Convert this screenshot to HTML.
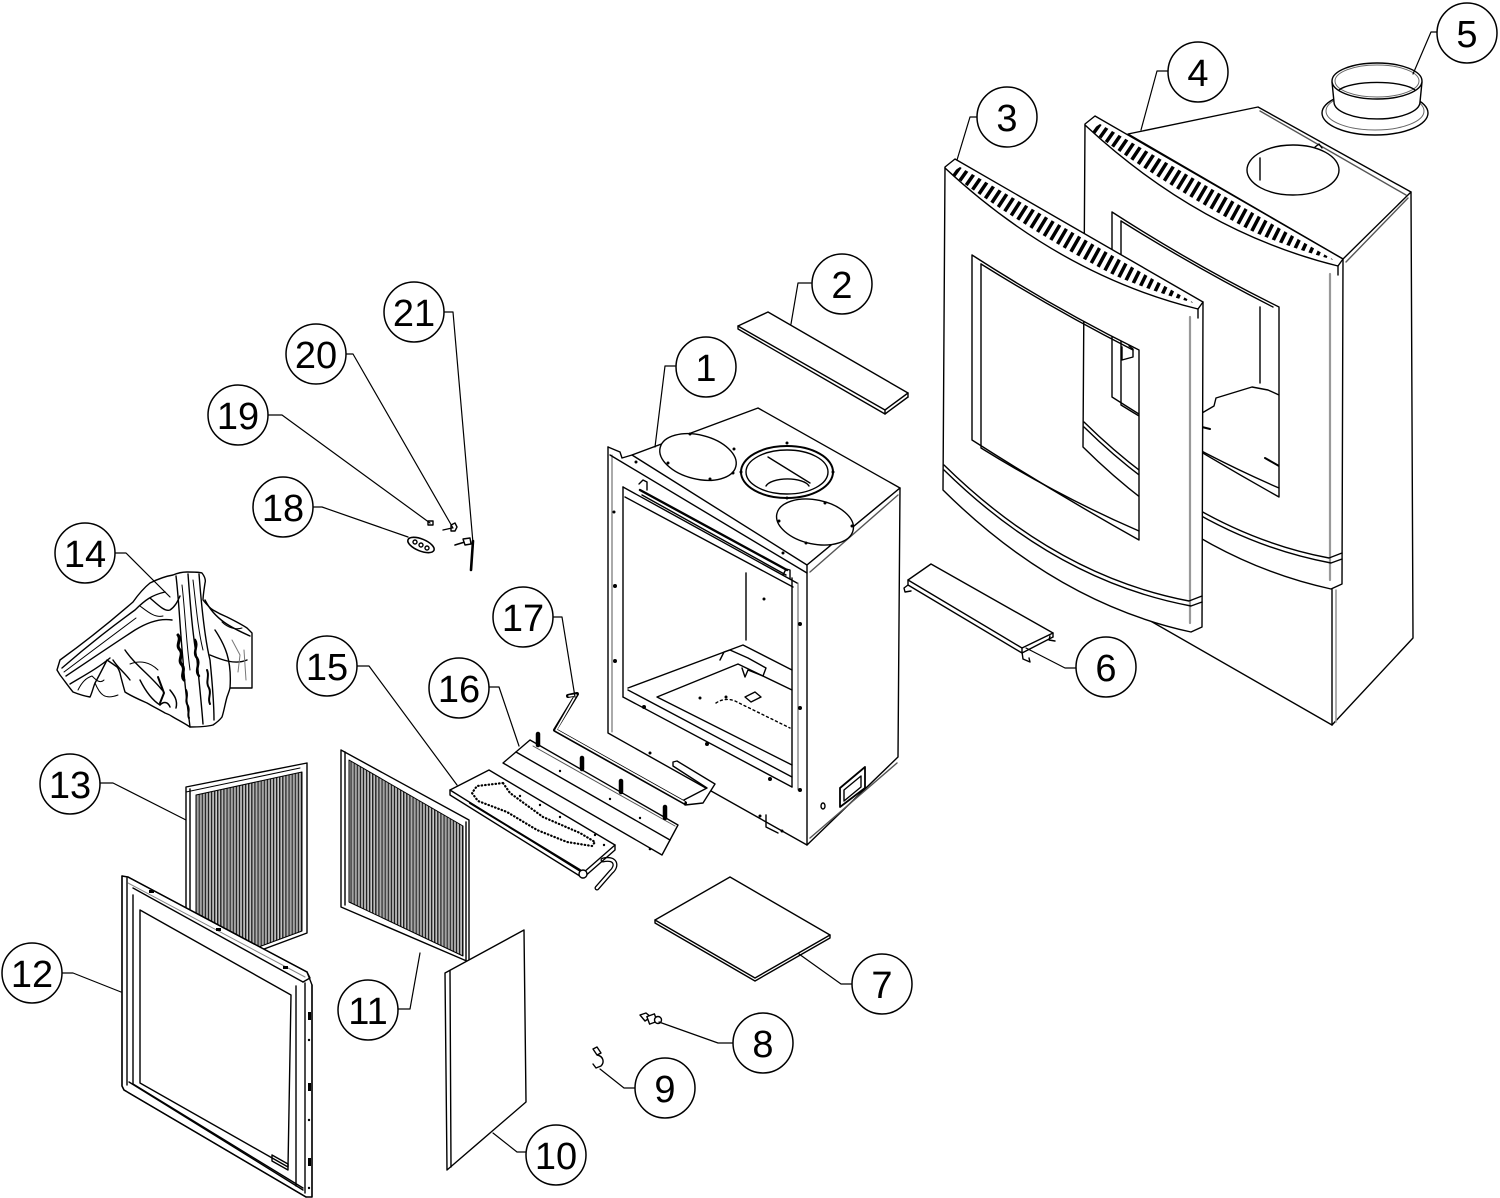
<!DOCTYPE html>
<html><head><meta charset="utf-8">
<style>
html,body{margin:0;padding:0;background:#fff;}
svg{display:block;}
.lbl{font-family:"Liberation Sans",Arial,sans-serif;font-size:38px;fill:#000;stroke:none;text-anchor:middle;}
</style></head><body>
<svg width="1500" height="1198" viewBox="0 0 1500 1198" xmlns="http://www.w3.org/2000/svg">
<defs>
<pattern id="rid" width="3.1" height="20" patternUnits="userSpaceOnUse">
<rect x="0" y="0" width="3.1" height="20" fill="#fff"/>
<rect x="0" y="0" width="1.5" height="20" fill="#222"/>
<rect x="1.9" y="0" width="0.7" height="20" fill="#888"/>
</pattern>
<clipPath id="slotclip"><path d="M960 167 L1194 303 Q1061 267 951 173 Z"/></clipPath>
<g id="front">
<path d="M945 167 L955 159 L1203 302 L1202 627 L1191 632 Q1057 603 943 490 Z M972 255 Q1054 308 1139 350 L1139 540 Q1055 493 972 440 Z" fill="#fff" fill-rule="evenodd"/>
<path d="M945 168 Q1060 275 1198 309 L1203 302"/>
<path d="M958 167 Q1070 248 1193 302" stroke="#000" stroke-width="20" stroke-dasharray="3.5 4.2" clip-path="url(#slotclip)" stroke-linecap="butt"/>
<line x1="1190" y1="317" x2="1190" y2="623" stroke="#999" stroke-width="2.2"/>
<line x1="1198" y1="309" x2="1198" y2="318"/>
<path d="M944 465 Q1057 576 1189 601 L1202 596"/>
<path d="M944 470 Q1057 581 1191 606 L1202 602"/>
<path d="M981 264 L981 448 Q1060 497 1139 531"/>
<path d="M981 264 Q1058 312 1133 350"/>
</g>
</defs>
<rect width="1500" height="1198" fill="#fff"/>
<g fill="none" stroke="#000" stroke-width="1.4" stroke-linejoin="round" stroke-linecap="round">

<!-- ===== PART 4 (back shell) ===== -->
<polygon points="1128,134 1258,107 1411,192 1343,259" fill="#fff"/>
<line x1="1260" y1="111" x2="1406" y2="195" stroke="#555"/>
<line x1="1346" y1="262" x2="1408" y2="198" stroke="#555"/>
<ellipse cx="1293" cy="170" rx="46" ry="25" fill="#fff"/>
<line x1="1260" y1="158" x2="1260" y2="180"/>
<path d="M1315 147 l4 -3 l3 4"/>
<polyline points="1411,192 1413,638 1332,725"/>
<line x1="1332" y1="588" x2="1332" y2="725"/>
<line x1="1336" y1="590" x2="1336" y2="722" stroke="#999" stroke-width="1.6"/>
<line x1="1100" y1="592" x2="1332" y2="725"/>
<polyline points="1202,413 1214,406 1216,398 1252,387 1268,390 1279,395"/>
<line x1="1260" y1="307" x2="1260" y2="383"/>
<line x1="1202" y1="427" x2="1210" y2="429" stroke-width="2"/>
<line x1="1265" y1="458" x2="1279" y2="466" stroke-width="2"/>
<use href="#front" transform="translate(140,-43)"/>
<path d="M1122 347 L1122 360 L1133 357 L1133 349 L1129 346"/>

<!-- ===== PART 3 (front frame) ===== -->
<use href="#front"/>

<!-- ===== PART 5 (collar) ===== -->
<ellipse cx="1375" cy="113" rx="53" ry="22" fill="#fff"/>
<ellipse cx="1375" cy="111" rx="49" ry="19" stroke="#666" stroke-width="1"/>
<path d="M1332 82 L1334 102 A43 17 0 0 0 1420 102 L1422 82 Z" fill="#fff"/>
<ellipse cx="1377" cy="81" rx="45" ry="18" fill="#fff"/>
<ellipse cx="1377" cy="81" rx="42" ry="16" stroke="#666" stroke-width="1"/>
<path d="M1339 90 A40 11 0 0 1 1415 90"/>

<!-- ===== PART 2 ===== -->
<polygon points="738,326 768,312 908,393 885,410" fill="#fff"/>
<polyline points="738,326 738,329 885,414 885,410"/>
<line x1="885" y1="414" x2="908" y2="397"/>
<line x1="908" y1="393" x2="908" y2="397"/>

<!-- ===== PART 1 (firebox) ===== -->
<polygon points="632,455 758,408 900,488 807,565" fill="#fff"/>
<polygon points="807,565 900,488 898,757 807,845" fill="#fff"/>
<line x1="810" y1="572" x2="898" y2="495" stroke="#555"/>
<line x1="810" y1="838" x2="897" y2="763" stroke="#555"/>
<polyline points="608,447 620,452 622,458 632,455"/>
<polyline points="608,447 608,733 807,845"/>
<line x1="612" y1="455" x2="612" y2="732" stroke="#555" stroke-width="1"/>
<line x1="610" y1="455" x2="807" y2="573"/>
<line x1="623" y1="487" x2="623" y2="697"/>
<line x1="792" y1="578" x2="792" y2="787"/>
<line x1="798" y1="583" x2="798" y2="790" stroke="#555" stroke-width="1"/>
<line x1="623" y1="487" x2="797" y2="583"/>
<line x1="640" y1="490" x2="787" y2="570" stroke-width="2.4"/>
<line x1="642" y1="495" x2="786" y2="575"/>
<line x1="625" y1="497" x2="793" y2="587"/>
<path d="M639 484 l4 -4 l4 2 l0 8" />
<path d="M783 575 l3 -6 l4 1 l0 9" />
<line x1="628" y1="690" x2="792" y2="777"/>
<line x1="623" y1="697" x2="792" y2="787"/>
<line x1="746" y1="573" x2="746" y2="640"/>
<polyline points="628,688 743,645 792,670"/>
<polyline points="792,765 657,697 738,664 792,690"/>
<path d="M720 660 L724 652 L730 650 L748 658 L766 668 L763 676 L748 670 L745 677 L742 668"/>
<polygon points="745,697 755,692 761,697 751,702"/>
<path d="M716 703 Q725 697 735 701 L790 728" stroke-dasharray="2 3"/>
<ellipse cx="698" cy="457" rx="39" ry="22" transform="rotate(14 698 457)" fill="#fff"/>
<ellipse cx="787" cy="472" rx="46" ry="26" fill="#fff" stroke-width="2"/>
<ellipse cx="787" cy="472" rx="41" ry="22"/>
<path d="M766 486 A22 9 0 0 1 809 486"/>
<line x1="768" y1="457" x2="810" y2="483"/>
<ellipse cx="815" cy="522" rx="39" ry="22" transform="rotate(12 815 522)" fill="#fff"/>
<g fill="#000" stroke="none">
<circle cx="690" cy="434" r="1.5"/><circle cx="734" cy="449" r="1.5"/><circle cx="668" cy="463" r="1.5"/><circle cx="710" cy="479" r="1.5"/>
<circle cx="787" cy="443" r="1.5"/><circle cx="787" cy="498" r="1.5"/><circle cx="741" cy="472" r="1.5"/><circle cx="833" cy="472" r="1.5"/><circle cx="733" cy="473" r="1.5"/>
<circle cx="825" cy="503" r="1.5"/><circle cx="852" cy="526" r="1.5"/><circle cx="806" cy="543" r="1.5"/><circle cx="779" cy="521" r="1.5"/>
<circle cx="636" cy="462" r="1.5"/><circle cx="783" cy="553" r="1.5"/>
<circle cx="615" cy="586" r="2"/><circle cx="615" cy="661" r="2"/><circle cx="614" cy="512" r="1.5"/>
<circle cx="800" cy="624" r="2"/><circle cx="800" cy="708" r="2"/><circle cx="800" cy="790" r="2"/>
<circle cx="644" cy="707" r="2"/><circle cx="707" cy="744" r="2"/><circle cx="770" cy="779" r="2"/>
<circle cx="764" cy="599" r="1.5"/><circle cx="700" cy="698" r="1.5"/><circle cx="726" cy="697" r="1.5"/>
<circle cx="650" cy="753" r="1.5"/><circle cx="760" cy="816" r="1.5"/><circle cx="782" cy="831" r="1.5"/>
</g>
<ellipse cx="823" cy="806" rx="2" ry="3"/>
<polygon points="840,788 865,767 865,788 840,807" fill="#fff" stroke-width="1.8"/>
<polygon points="844,790 861,776 861,787 844,801"/>
<path d="M766 815 l0 12 l12 6"/>

<!-- ===== PART 6 ===== -->
<polygon points="908,580 931,564 1053,633 1022,648" fill="#fff"/>
<polyline points="908,580 908,585 1022,653 1022,648"/>
<line x1="1022" y1="653" x2="1053" y2="637"/>
<line x1="1053" y1="633" x2="1053" y2="637"/>
<path d="M908 585 L904 588 L905 592 L911 591"/>
<path d="M1022 652 L1023 659 L1030 662 L1029 658"/>
<path d="M1050 636 L1049 640 L1055 641"/>

<!-- ===== PART 17 ===== -->
<polygon points="673,762 677,761 715,784 703,803 685,805 682,801 707,788 673,766" fill="#fff"/>
<path d="M568 696 L577 694 L555 730 L685 803" stroke="#000" stroke-width="4"/>
<path d="M569 696 L576 695 L556 730 L684 802" stroke="#fff" stroke-width="1.6"/>

<!-- ===== PART 16 ===== -->
<polygon points="503,763 530,740 678,825 662,855" fill="#fff"/>
<line x1="516" y1="752" x2="670" y2="840"/>
<line x1="533" y1="746" x2="675" y2="826" stroke="#555" stroke-width="1"/>
<g stroke-width="4.5">
<line x1="538" y1="734" x2="538" y2="745"/><line x1="582" y1="758" x2="582" y2="769"/>
<line x1="621" y1="781" x2="621" y2="792"/><line x1="665" y1="807" x2="665" y2="818"/>
</g>
<g fill="#000" stroke="none"><circle cx="560" cy="771" r="1.2"/><circle cx="610" cy="799" r="1.2"/><circle cx="640" cy="818" r="1.2"/><circle cx="650" cy="849" r="1.3"/></g>

<!-- ===== PART 15 ===== -->
<path d="M603 860 C616 857 618 866 611 872 L597 888" stroke="#000" stroke-width="5"/>
<path d="M603 860 C616 857 618 866 611 872 L597 888" stroke="#fff" stroke-width="2.4"/>
<polygon points="450,790 489,770 615,845 583,873" fill="#fff"/>
<polyline points="450,790 450,795 583,878 615,850 615,845"/>
<line x1="470" y1="803" x2="580" y2="870" stroke-width="2"/>
<path d="M503 783 L477 786 L472 793 L478 801 L507 812 L537 830 L567 842 L592 846 L595 842 L580 833 L543 817 L510 793 Z" stroke-width="2.2" stroke-dasharray="0.5 3"/>
<circle cx="583" cy="874" r="4" fill="#fff"/>
<g fill="#000" stroke="none"><circle cx="520" cy="796" r="1.2"/><circle cx="540" cy="805" r="1.2"/><circle cx="560" cy="817" r="1.2"/><circle cx="595" cy="835" r="1.2"/><circle cx="604" cy="845" r="1.2"/></g>

<!-- ===== PART 7 ===== -->
<polygon points="655,920 730,877 830,935 755,978" fill="#fff"/>
<polyline points="655,920 655,923 755,981 830,938 830,935"/>

<!-- ===== PART 8 ===== -->
<path d="M640 1015 L646 1013 L651 1017 L645 1021 Z" fill="#fff"/>
<rect x="648" y="1015" width="8" height="8" transform="rotate(-20 652 1019)" fill="#fff"/>
<circle cx="658" cy="1020" r="3.5" fill="#fff"/>
<!-- ===== PART 9 ===== -->
<path d="M593 1049 L597 1047 L601 1053 L597 1055 Z M597 1055 C603 1056 605 1062 601 1066 L596 1068 L593 1064" fill="#fff"/>

<!-- ===== PART 13 ===== -->
<polygon points="186,787 307,763 307,933 186,978" fill="#fff"/>
<polygon points="196,795 302,772 302,931 196,970" fill="url(#rid)" stroke-width="1"/>
<line x1="190" y1="789" x2="190" y2="976"/>
<line x1="186" y1="792" x2="300" y2="768" stroke-width="1"/>

<!-- ===== PART 12 ===== -->
<polygon points="122,876 128,877 307,972 312,985 312,1197 306,1197 124,1090 122,1086" fill="#fff"/>
<polyline points="122,876 122,1086 124,1090 306,1197"/>
<line x1="127" y1="878" x2="127" y2="1085"/>
<line x1="128" y1="877" x2="307" y2="972"/>
<line x1="133" y1="888" x2="303" y2="982"/>
<polyline points="307,972 310,978 303,982"/>
<line x1="128" y1="883" x2="305" y2="977" stroke="#888" stroke-width="1"/>
<polyline points="133,895 133,1084 303,1188"/>
<polygon points="140,910 291,995 288,1167 140,1083"/>
<line x1="296" y1="986" x2="296" y2="1186"/>
<line x1="305" y1="983" x2="305" y2="1193"/>
<line x1="312" y1="985" x2="312" y2="1197"/>
<line x1="129" y1="1082" x2="303" y2="1190"/>
<polygon points="272,1155 288,1164 288,1170 272,1161"/>
<g fill="#000" stroke="none">
<rect x="149" y="890" width="5" height="3"/><rect x="216" y="928" width="5" height="3"/><rect x="283" y="966" width="5" height="3"/>
<rect x="308" y="1012" width="3" height="8"/><rect x="308" y="1083" width="3" height="8"/><rect x="308" y="1158" width="3" height="8"/>
<circle cx="309" cy="1040" r="1.2"/><circle cx="309" cy="1120" r="1.2"/><circle cx="309" cy="1188" r="1.2"/>
</g>

<!-- ===== PART 11 ===== -->
<polygon points="341,750 469,820 469,962 341,907" fill="#fff"/>
<polygon points="349,760 463,826 463,956 349,902" fill="url(#rid)" stroke-width="1"/>
<line x1="345" y1="752" x2="345" y2="905"/>
<line x1="466" y1="822" x2="466" y2="961"/>

<!-- ===== PART 10 ===== -->
<polygon points="445,973 524,930 526,1102 447,1170" fill="#fff"/>
<line x1="450" y1="971" x2="451" y2="1167"/>

<!-- ===== PART 14 (logs) ===== -->
<path d="M57 670 L60 660 C85 642 110 622 133 602 C140 592 145 587 150 583 C160 578 167 576 173 575 C180 572 184 572 187 572 C194 572 199 572 202 573 C205 577 206 580 205 583 C204 590 203 596 203 600 C207 605 210 608 213 610 C218 613 222 615 227 617 C235 621 241 624 247 628 L252 633 L252 688 L230 688 C229 692 228 694 227 697 C225 704 224 711 222 717 C219 721 216 723 213 725 C205 727 197 727 190 727 C184 723 178 720 173 717 C170 715 168 714 165 713 C158 709 152 706 147 703 C138 699 131 696 125 692 C123 685 121 678 120 673 C119 670 118 668 117 667 C113 664 110 662 107 660 C103 668 99 676 95 683 C93 688 92 693 90 697 C84 696 78 694 73 692 C68 686 64 680 60 675 Z" fill="#fff"/>
<path d="M62 668 C85 648 110 628 135 610 C145 600 152 595 165 592"/>
<path d="M64 672 C88 654 112 636 136 618" stroke-width="1"/>
<path d="M66 676 C90 660 112 645 135 630 C148 622 160 618 172 620"/>
<path d="M70 684 C85 675 98 668 110 658"/>
<path d="M78 690 C82 682 86 678 92 676 C96 680 100 684 104 680" stroke-width="1"/>
<path d="M150 598 C158 605 165 612 170 610 C176 606 178 600 180 596"/>
<path d="M140 606 C148 612 155 618 163 616" stroke-width="1"/>
<path d="M176 576 C179 600 180 630 183 660 C185 690 188 710 190 727"/>
<path d="M188 574 C190 600 192 630 197 660 C200 690 202 710 203 724"/>
<path d="M199 574 C201 600 205 640 210 660 C213 690 214 705 214 720"/>
<path d="M182 585 C185 610 186 640 190 670" stroke-width="1"/>
<path d="M193 580 C196 605 198 630 203 650" stroke-width="1"/>
<path d="M205 600 C215 620 232 628 250 636"/>
<path d="M215 630 C225 645 232 660 230 688"/>
<path d="M210 655 C222 660 235 665 247 660"/>
<path d="M222 622 C228 628 236 630 242 628" stroke-width="1"/>
<path d="M125 650 C135 665 150 675 162 690"/>
<path d="M113 660 C118 668 124 672 130 680"/>
<path d="M140 680 C145 690 152 700 160 705"/>
<path d="M130 664 C140 660 150 662 158 670" stroke-width="1"/>
<path d="M95 683 C100 695 105 700 118 695" stroke-width="1"/>
<path d="M178 635 c4 5 -3 10 2 15 c4 5 -3 10 2 15 c4 5 -2 10 2 15" stroke-width="3"/>
<path d="M195 640 c4 6 -3 12 2 18 c4 6 -3 12 2 18" stroke-width="2.5"/>
<path d="M207 670 c3 6 -2 12 2 18 c3 6 -2 10 1 16" stroke-width="2"/>
<path d="M186 690 c3 6 -2 10 2 16 c2 5 -1 8 1 12" stroke-width="2"/>
<path d="M158 677 l6 16 l-4 10" stroke-width="2"/>
<path d="M170 690 c4 5 8 10 6 18" stroke-width="1.5"/>
<path d="M160 705 c4 -4 8 -3 10 2" stroke-width="1.5"/>
<path d="M232 640 L240 655 L238 672 M244 650 L246 680" stroke="#777" stroke-width="1"/>

<!-- ===== PARTS 18-21 ===== -->
<ellipse cx="421" cy="545" rx="14" ry="6" transform="rotate(22 421 545)" fill="#fff" stroke-width="1.6"/>
<circle cx="415" cy="542" r="2"/><circle cx="421" cy="545" r="2"/><circle cx="427" cy="548" r="2"/>
<rect x="428" y="521" width="5" height="4" fill="#fff"/>
<path d="M443 530 L452 528 M451 525 L455 523 L457 527 L455 531 L451 531 Z" fill="#fff"/>
<line x1="455" y1="545" x2="468" y2="541" stroke-width="1.6"/>
<path d="M463 539 L470 538 L471 544 L465 545 Z" fill="#fff"/>
<line x1="473" y1="541" x2="471" y2="570" stroke-width="2.6"/>

<!-- ===== LEADERS ===== -->
<g stroke-width="1.2">
<polyline points="675,366 665,366 655,447"/>
<polyline points="811,283 798,283 791,324"/>
<polyline points="977,117 970,117 957,160"/>
<polyline points="1168,71 1157,71 1141,130"/>
<polyline points="1437,32 1431,32 1413,74"/>
<polyline points="1076,668 1065,668 1026,648"/>
<polyline points="852,984 841,984 799,954"/>
<polyline points="733,1043 718,1043 659,1022"/>
<polyline points="635,1088 624,1088 600,1069"/>
<polyline points="526,1152 517,1152 493,1133"/>
<polyline points="398,1009 410,1009 420,953"/>
<polyline points="62,973 73,973 121,992"/>
<polyline points="100,783 113,783 186,820"/>
<polyline points="115,553 126,553 170,597"/>
<polyline points="357,666 369,666 457,785"/>
<polyline points="489,687 499,687 519,746"/>
<polyline points="553,617 562,617 575,697"/>
<polyline points="313,507 322,507 408,537"/>
<polyline points="268,415 282,415 430,523"/>
<polyline points="346,354 353,354 453,528"/>
<polyline points="444,312 453,312 473,543"/>
</g>

<!-- ===== CIRCLES ===== -->
<g fill="#fff" stroke-width="1.5">
<circle cx="706" cy="367" r="30"/><circle cx="842" cy="284" r="30"/><circle cx="1007" cy="117" r="30"/>
<circle cx="1198" cy="72" r="30"/><circle cx="1467" cy="33" r="30"/><circle cx="1106" cy="667" r="30"/>
<circle cx="882" cy="984" r="30"/><circle cx="763" cy="1043" r="30"/><circle cx="665" cy="1088" r="30"/>
<circle cx="556" cy="1155" r="30"/><circle cx="368" cy="1010" r="30"/><circle cx="32" cy="973" r="30"/>
<circle cx="70" cy="784" r="30"/><circle cx="85" cy="553" r="30"/><circle cx="327" cy="666" r="30"/>
<circle cx="459" cy="688" r="30"/><circle cx="523" cy="617" r="30"/><circle cx="283" cy="507" r="30"/>
<circle cx="238" cy="415" r="30"/><circle cx="316" cy="354" r="30"/><circle cx="414" cy="312" r="30"/>
</g>
</g>
<g>
<text class="lbl" x="706" y="381">1</text>
<text class="lbl" x="842" y="298">2</text>
<text class="lbl" x="1007" y="131">3</text>
<text class="lbl" x="1198" y="86">4</text>
<text class="lbl" x="1467" y="47">5</text>
<text class="lbl" x="1106" y="681">6</text>
<text class="lbl" x="882" y="998">7</text>
<text class="lbl" x="763" y="1057">8</text>
<text class="lbl" x="665" y="1102">9</text>
<text class="lbl" x="556" y="1169">10</text>
<text class="lbl" x="368" y="1024">11</text>
<text class="lbl" x="32" y="987">12</text>
<text class="lbl" x="70" y="798">13</text>
<text class="lbl" x="85" y="567">14</text>
<text class="lbl" x="327" y="680">15</text>
<text class="lbl" x="459" y="702">16</text>
<text class="lbl" x="523" y="631">17</text>
<text class="lbl" x="283" y="521">18</text>
<text class="lbl" x="238" y="429">19</text>
<text class="lbl" x="316" y="368">20</text>
<text class="lbl" x="414" y="326">21</text>
</g>
</svg>
</body></html>
